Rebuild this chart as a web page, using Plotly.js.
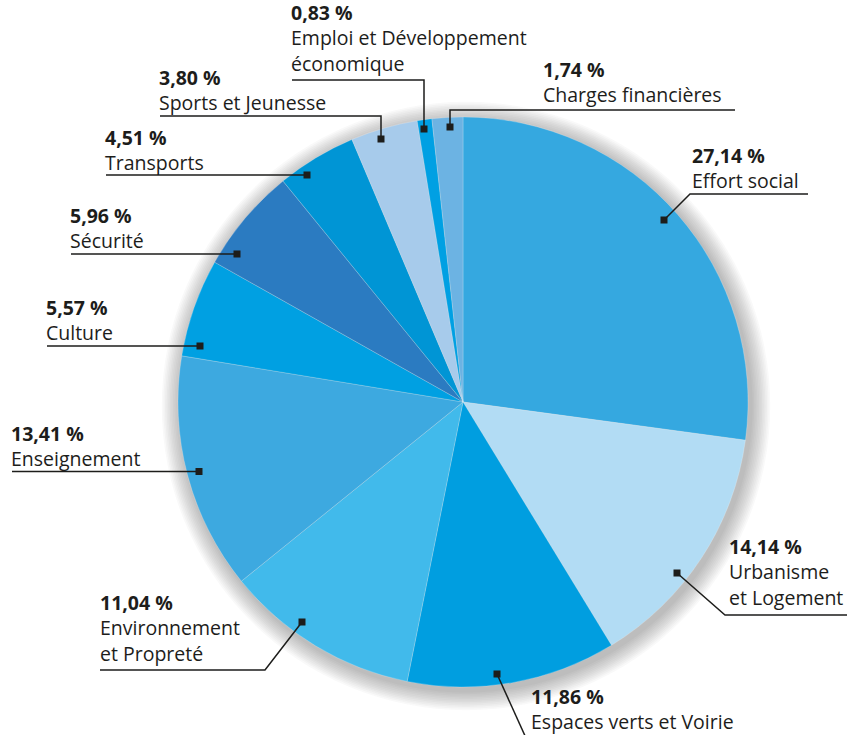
<!DOCTYPE html>
<html>
<head>
<meta charset="utf-8">
<script src="https://cdn.plot.ly/plotly-3.0.1.min.js"></script>
<style>html,body{margin:0;padding:0;background:#fff;}#chart{width:862px;height:735px;}</style>
</head>
<body>
<div id="chart"></div>
<script>
// ---- data ----
var categories = ["Effort social", "Urbanisme<br>et Logement", "Espaces verts et Voirie",
  "Environnement<br>et Propreté", "Enseignement", "Culture", "Sécurité", "Transports",
  "Sports et Jeunesse", "Emploi et Développement<br>économique", "Charges financières"];
var values = [27.14, 14.14, 11.86, 11.04, 13.41, 5.57, 5.96, 4.51, 3.80, 0.83, 1.74];
var colors = ["#35A8E0", "#B2DCF4", "#009EE0", "#41BAEB", "#3DA9E0", "#00A0E2",
  "#2B7BC1", "#0095D5", "#A7CBEB", "#00A0E3", "#6CB3E3"];

// ---- callout layout (pixel positions): text left, baseline of last text line, leader path ----
var callouts = [
  {x: 693, b: 188.5, path: [[664,220],[690,194],[808,194]]},
  {x: 730, b: 604.5, path: [[677,573],[725,615],[847,615]]},
  {x: 532, b: 729.5, path: [[497,674],[526,738]]},
  {x: 101, b: 660.5, path: [[302,622],[265,670],[100,670]]},
  {x: 12,  b: 466,   path: [[199,471.5],[12,471.5]]},
  {x: 47,  b: 340.5, path: [[200,346],[47,346]]},
  {x: 71,  b: 248.5, path: [[237,254],[71,254]]},
  {x: 106, b: 170,   path: [[307,175],[106,175]]},
  {x: 160, b: 110.5, path: [[381,139],[381,116],[160,116]]},
  {x: 292, b: 71,    path: [[424,129],[424,80],[292,80]]},
  {x: 544, b: 102.5, path: [[450,127],[450,110],[735,110]]}
];

var W = 862, H = 735;
var CX = 463, CY = 402, R = 285;
var FS = 19.5, LINE = 1.3 * FS;
var FONT = '"Open Sans", Roboto, sans-serif';
function px(x){ return x / W; }
function py(y){ return 1 - y / H; }
function fmt(v){ return v.toFixed(2).replace('.', ',') + ' %'; }

var shapes = [];
// soft halo/shadow behind the pie
for (var k = 12; k >= 1; k--) {
  var rr = R + k * 1.6;
  shapes.push({type:'circle', xref:'paper', yref:'paper', layer:'below',
    x0: px(CX - rr + 3), x1: px(CX + rr + 3), y0: py(CY + rr + 4), y1: py(CY - rr + 4),
    fillcolor:'rgba(60,60,70,0.03)', line:{width:0}});
}
var annotations = [];
callouts.forEach(function(c, i){
  var p = c.path;
  var d = 'M ' + px(p[0][0]) + ' ' + py(p[0][1]);
  for (var j = 1; j < p.length; j++) d += ' L ' + px(p[j][0]) + ' ' + py(p[j][1]);
  shapes.push({type:'path', xref:'paper', yref:'paper', path:d, line:{color:'#1d1d1b', width:1.5}});
  var m = p[0];
  shapes.push({type:'rect', xref:'paper', yref:'paper',
    x0: px(m[0]-3.5), x1: px(m[0]+3.5), y0: py(m[1]+3.5), y1: py(m[1]-3.5),
    fillcolor:'#1d1d1b', line:{width:0}});
  var text = '<b>' + fmt(values[i]) + '</b><br>' + categories[i];
  var n = text.split('<br>').length;
  var center = c.b - (n - 1) * LINE / 2 - 0.388 * FS;
  annotations.push({
    xref:'paper', yref:'paper', x: px(c.x - 1), y: py(center),
    xanchor:'left', yanchor:'middle', align:'left', showarrow:false,
    borderpad:0, borderwidth:0,
    text: text, font:{family: FONT, size: FS, color:'#1d1d1b'}
  });
});

var trace = {
  type:'pie', values: values, labels: categories.map(function(s){return s.replace('<br>',' ');}),
  sort:false, direction:'clockwise', rotation:0,
  marker:{colors: colors, line:{color:'rgba(255,255,255,0.35)', width:0.6}},
  textinfo:'none', hoverinfo:'label+percent',
  domain:{x:[px(CX - R), px(CX + R)], y:[py(CY + R), py(CY - R)]}
};

var layout = {
  width: W, height: H, margin:{l:0, r:0, t:0, b:0},
  paper_bgcolor:'#ffffff', showlegend:false,
  shapes: shapes, annotations: annotations
};
Plotly.newPlot('chart', [trace], layout, {displayModeBar:false, staticPlot:true});
</script>
</body>
</html>
